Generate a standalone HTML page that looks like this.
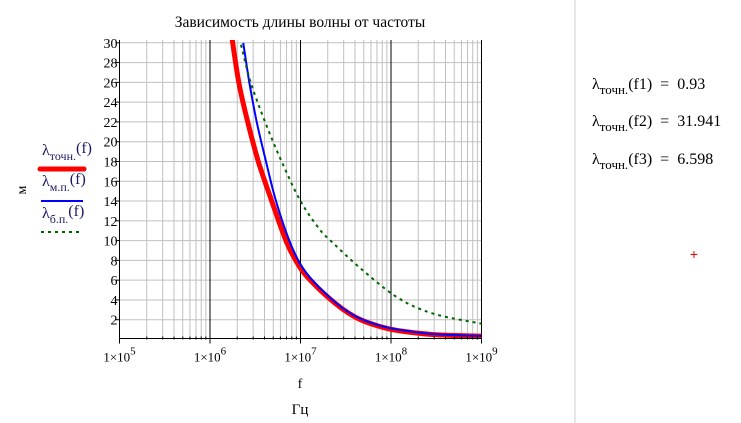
<!DOCTYPE html>
<html><head><meta charset="utf-8"><style>
body{margin:0;background:#fff;width:741px;height:423px;overflow:hidden;font-family:"Liberation Serif",serif;}
.res{position:absolute;left:592px;font-size:16px;color:#000;white-space:pre}
.res sub{font-size:13px;vertical-align:-5px}
</style></head><body>
<svg id="chart" width="741" height="423" style="position:absolute;left:0;top:0" font-family="Liberation Serif, serif">
<g id="grid"></g><g id="series"></g><g id="axes"></g>
<text x="300" y="27" text-anchor="middle" font-size="15.5">Зависимость длины волны от частоты</text>
<text x="300" y="388" text-anchor="middle" font-size="14">f</text>
<text x="300" y="414" text-anchor="middle" font-size="15">Гц</text>
<text x="26" y="190" text-anchor="middle" font-size="14" transform="rotate(-90 26 190)">м</text>
<g font-size="16" fill="#1a1a66">
<text x="42" y="155">λ<tspan font-size="12" dy="5">точн.</tspan><tspan dy="-7">(f)</tspan></text>
<line x1="40" y1="169" x2="84" y2="169" stroke="#f00" stroke-width="5" stroke-linecap="round"/>
<text x="42" y="186">λ<tspan font-size="12" dy="5">м.п.</tspan><tspan dy="-7">(f)</tspan></text>
<line x1="41" y1="201" x2="83" y2="201" stroke="#00f" stroke-width="2"/>
<text x="42" y="218">λ<tspan font-size="12" dy="5">б.п.</tspan><tspan dy="-7">(f)</tspan></text>
<line x1="41" y1="232" x2="83" y2="232" stroke="#006600" stroke-width="2" stroke-dasharray="3,4"/>
</g>
<line x1="575" y1="0" x2="575" y2="423" stroke="#ccc"/>
<text x="694" y="259" text-anchor="middle" fill="#e00" font-size="14" font-family="Liberation Sans, sans-serif">+</text>
</svg>
<div class="res" style="top:76px">λ<sub>точн.</sub>(f1)  =  0.93</div>
<div class="res" style="top:113px">λ<sub>точн.</sub>(f2)  =  31.941</div>
<div class="res" style="top:151px">λ<sub>точн.</sub>(f3)  =  6.598</div>
<script>
const exactF=[1.75e6,2.08e6,2.61e6,3.42e6,4.81e6,7.05e6,1e7,1.38e7,2e7,3e7,4.6e7,7.6e7,1.2e8,2.97e8,1e9];
const exactV=[30.5,26,22,18,14,9.8,7.2,5.7,4.3,3.0,2.0,1.3,0.9,0.5,0.34];
const mpF=[2.33e6,2.72e6,3.28e6,4.16e6,5.36e6,7.52e6,1e7,1.38e7,2e7,3e7,4.6e7,7.6e7,1.2e8,2.97e8,1e9];
const mpV=[30,26,22,18,14,10,7.6,5.9,4.45,3.1,2.1,1.4,1.0,0.55,0.36];
const bpF=[2.2e6,2.82e6,4.06e6,6.19e6,1e7,1.64e7,2.33e7,4.6e7,1.2e8,2.97e8,1e9];
const bpV=[29.8,26,22,18,14,11.1,9.7,7.2,4.2,2.6,1.6];
const yTicks=[2,4,6,8,10,12,14,16,18,20,22,24,26,28,30];
const xDecades=[5,6,7,8,9];
const NS="http://www.w3.org/2000/svg";
const L=119.5,R=481.5,T=40,B=339.5;
function X(f){return L+(Math.log10(f)-5)/4*(R-L);}
function Y(v){return B-v*9.89;}
function mk(t,a,p){const e=document.createElementNS(NS,t);for(const k in a)e.setAttribute(k,a[k]);p.appendChild(e);return e;}
const grid=document.getElementById('grid'),ax=document.getElementById('axes'),se=document.getElementById('series');
for(let d=5;d<9;d++)for(let m=2;m<=9;m++){const x=X(m*Math.pow(10,d));
const g=mk('line',{x1:x,x2:x,y1:T,y2:B,stroke:'#c0c0c0'},grid);


const t=mk('line',{x1:x,x2:x,y1:B-3,y2:B,stroke:'#000'},ax);

}
yTicks.forEach(v=>{const y=Y(v);
const g=mk('line',{x1:L,x2:R,y1:y,y2:y,stroke:'#c0c0c0'},grid);


const t=mk('line',{x1:L-4,x2:L,y1:y,y2:y,stroke:'#000'},ax);


const l=mk('text',{x:L-2,y:y+5,'text-anchor':'end','font-size':14},ax);l.textContent=v;

});
xDecades.forEach(d=>{const x=X(Math.pow(10,d));
if(d>5){const g=mk('line',{x1:x,x2:x,y1:T,y2:B,stroke:'#000'},grid);

}
const t=mk('line',{x1:x,x2:x,y1:B,y2:B+4,stroke:'#000'},ax);


const l=mk('text',{x:x,y:B+22,'text-anchor':'middle','font-size':13},ax);
l.innerHTML='1×10<tspan font-size="11" dy="-7">'+d+'</tspan>';

});
const xa=mk('line',{x1:L,x2:R,y1:B-1,y2:B-1,stroke:'#000'},ax);


const ya=mk('line',{x1:L,x2:L,y1:T,y2:B,stroke:'#000'},ax);


function path(F,V){
  const P=F.map((f,i)=>[X(f),Y(V[i])]);
  let d='M'+P[0][0].toFixed(1)+','+P[0][1].toFixed(1);
  for(let i=0;i<P.length-1;i++){
    const p0=P[Math.max(0,i-1)],p1=P[i],p2=P[i+1],p3=P[Math.min(P.length-1,i+2)];
    const c1=[p1[0]+(p2[0]-p0[0])/6,p1[1]+(p2[1]-p0[1])/6];
    const c2=[p2[0]-(p3[0]-p1[0])/6,p2[1]-(p3[1]-p1[1])/6];
    d+=' C'+c1[0].toFixed(1)+','+c1[1].toFixed(1)+' '+c2[0].toFixed(1)+','+c2[1].toFixed(1)+' '+p2[0].toFixed(1)+','+p2[1].toFixed(1);
  }
  return d;
}
const defs=mk('clipPath',{id:'clip'},se);mk('rect',{x:L,y:T,width:R-L,height:B-T},defs);
const p1=mk('path',{d:path(exactF,exactV),fill:'none',stroke:'#f00','stroke-width':5,'clip-path':'url(#clip)'},se);


const p2=mk('path',{d:path(mpF,mpV),fill:'none',stroke:'#00f','stroke-width':2,'clip-path':'url(#clip)'},se);


const p3=mk('path',{d:path(bpF,bpV),fill:'none',stroke:'#006600','stroke-width':2,'stroke-dasharray':'3,4','clip-path':'url(#clip)'},se);


</script>
</body></html>
